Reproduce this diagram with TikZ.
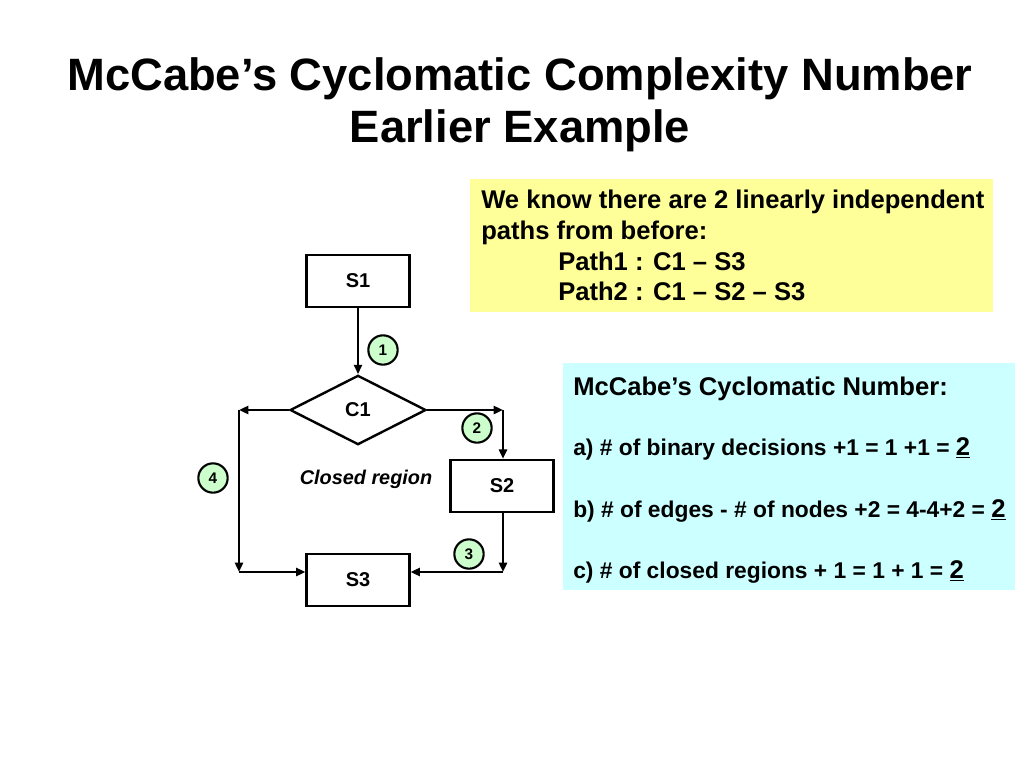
\documentclass[tikz,border=0pt]{standalone}
\usepackage{fontspec}
\setmainfont{Liberation Sans}
\usetikzlibrary{shapes.geometric,arrows.meta,calc}
\definecolor{notefill}{RGB}{255,255,153}
\definecolor{cyanfill}{RGB}{204,255,255}
\definecolor{edgefill}{RGB}{204,255,204}
\tikzset{
  stmt/.style={draw,line width=1.8pt,minimum width=77pt,minimum height=39pt,inner sep=0pt,font=\fontsize{15}{18}\selectfont\bfseries},
  cond/.style={draw,diamond,line width=1.8pt,minimum width=102pt,minimum height=52pt,inner sep=0pt,font=\fontsize{15}{18}\selectfont\bfseries},
  edgenum/.style={draw,circle,fill=edgefill,line width=1.6pt,minimum size=22pt,inner sep=0pt,font=\fontsize{11.5}{13}\selectfont\bfseries},
  flow/.style={line width=1.8pt,-{Triangle[length=7pt,width=6pt]}},
  txt/.style={anchor=base west,inner sep=0pt,font=\fontsize{19.2}{23}\selectfont\bfseries},
  smalltxt/.style={anchor=base west,inner sep=0pt,font=\fontsize{17.1}{20}\selectfont\bfseries},
}
\newcommand{\bigtwo}{{\fontsize{19.2}{23}\selectfont\underline{2}}}
\begin{document}
\begin{tikzpicture}[x=0.75pt,y=0.75pt,yscale=-1,xscale=1]
    \useasboundingbox (0,0) rectangle (1024,768);
    % title
    \node (title) [anchor=base,inner sep=0pt,font=\fontsize{34}{40}\selectfont\bfseries] at (520,90) {McCabe’s Cyclomatic Complexity Number};
    \node (subtitle) [anchor=base,inner sep=0pt,font=\fontsize{34}{40}\selectfont\bfseries] at (520,142) {Earlier Example};
    % flow graph
    \node (s1) [stmt] at (358,281) {S1};
    \node (c1) [cond] at (358,410) {C1};
    \node (s2) [stmt] at (502,486) {S2};
    \node (s3) [stmt] at (358,580) {S3};
    \coordinate (lt) at (239,410);
    \coordinate (lb) at (239,572);
    \coordinate (rt) at (503,410);
    \coordinate (rb) at (503,572);
    \draw [flow] (s1) -- (c1);
    \draw [flow] (c1.west) -- (lt);
    \draw [flow] (lt) -- (lb);
    \draw [flow] (lb) -- (lb -| s3.west);
    \draw [flow] (c1.east) -- (rt);
    \draw [flow] (rt) -- (rt |- s2.north);
    \draw [flow] (rb |- s2.south) -- (rb);
    \draw [flow] (rb) -- (rb -| s3.east);
    \node (e1) [edgenum] at (383,350) {1};
    \node (e2) [edgenum] at (477,428) {2};
    \node (e3) [edgenum] at (469,554) {3};
    \node (e4) [edgenum] at (213,478) {4};
    \node (region) [font=\fontsize{14.9}{18}\selectfont\bfseries\itshape] at (366,479) {Closed region};
    % yellow note
    \fill [notefill] (470,179) rectangle (993,312);
    \node (note1) [txt] at (481,208) {We know there are 2 linearly independent};
    \node (note2) [txt] at (481,239) {paths from before:};
    \node (path1) [txt] at (558,270) {Path1 : C1 -- S3};
    \node (path2) [txt] at (558,300) {Path2 : C1 -- S2 -- S3};
    % cyan box
    \fill [cyanfill] (563,363) rectangle (1015,590);
    \node (head) [txt] at (573,395) {McCabe’s Cyclomatic Number:};
    \node (ruleA) [smalltxt] at (573,455) {a) \# of binary decisions +1 = 1 +1 = \bigtwo};
    \node (ruleB) [smalltxt] at (573,517) {b) \# of edges - \# of nodes +2 = 4-4+2 = \bigtwo};
    \node (ruleC) [smalltxt] at (573,578) {c) \# of closed regions + 1 = 1 + 1 = \bigtwo};
\end{tikzpicture}
\end{document}
